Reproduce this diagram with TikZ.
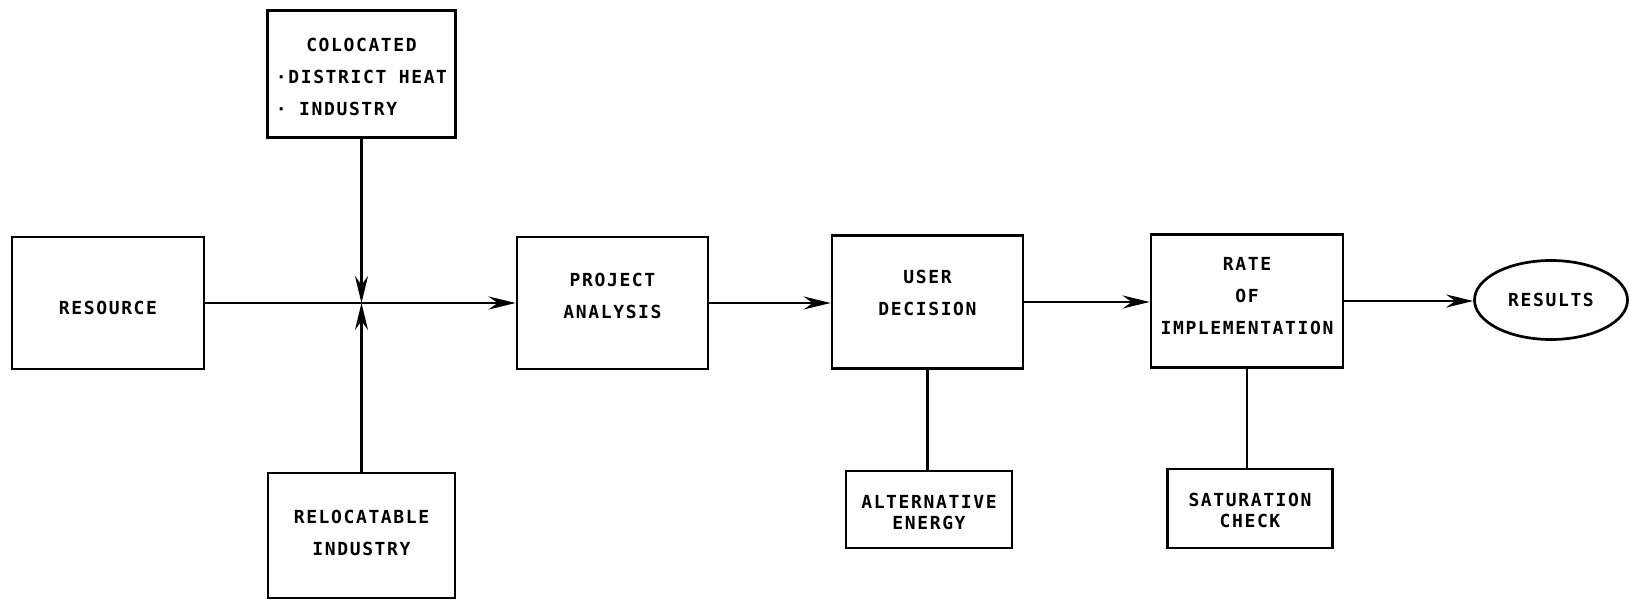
\documentclass[tikz,border=0pt]{standalone}
\usepackage{fontspec}
\newfontfamily\lettering[LetterSpace=9]{DejaVu Sans Mono Bold}
\usetikzlibrary{arrows.meta,shapes.geometric}
\newcommand\lns[3][c]{\raisebox{\dimexpr#2-4.5pt\relax}[0pt][0pt]{\begin{tabular}{@{}#1@{}}#3\end{tabular}}}
\tikzset{
  box/.style={draw, line width=2.7pt, rectangle, inner sep=0pt, align=center,
    font=\lettering\fontsize{18}{32}\selectfont},
  smallbox/.style={box, font=\lettering\fontsize{18}{21}\selectfont},
  oval/.style={draw, line width=2.7pt, ellipse, inner sep=0pt, align=center,
    font=\lettering\fontsize{18}{32}\selectfont},
  flow/.style={line width=2.7pt, -{Stealth[length=27pt,width=13pt,inset=9pt]}},
  link/.style={line width=2.7pt}
}
\begin{document}
\begin{tikzpicture}[x=1pt,y=-1pt]
\useasboundingbox (0,0) rectangle (1630,601);
\node[box, minimum width=192pt, minimum height=132pt] (res) at (108,303) {\lns{-5pt}{RESOURCE}};
\node[box, minimum width=188pt, minimum height=127pt] (col) at (361.5,74)
  {\lns[l]{-3pt}{\multicolumn{1}{@{}c@{}}{COLOCATED}\\{·}DISTRICT HEAT\\{·} INDUSTRY}};
\node[box, minimum width=187pt, minimum height=125pt] (rel) at (361.5,535.5) {\lns{3pt}{RELOCATABLE\\INDUSTRY}};
\node[box, minimum width=191pt, minimum height=132pt] (pa) at (612.5,303) {\lns{7pt}{PROJECT\\ANALYSIS}};
\node[box, minimum width=191pt, minimum height=133pt] (ud) at (927.5,302) {\lns{9pt}{USER\\DECISION}};
\node[box, minimum width=192pt, minimum height=133pt] (rate) at (1247,301) {\lns{5pt}{RATE\\OF\\IMPLEMENTATION}};
\node[oval, minimum width=153pt, minimum height=79pt] (out) at (1551,300) {RESULTS};
\node[smallbox, minimum width=166pt, minimum height=77pt] (alt) at (929,509.5) {\lns{-5pt}{ALTERNATIVE\\ENERGY}};
\node[smallbox, minimum width=165pt, minimum height=79pt] (sat) at (1250,508.5) {\lns{-4pt}{SATURATION\\CHECK}};
\coordinate (j) at (col.south |- res.east);
\draw[flow] (res.east) -- (pa.west);
\draw[flow] (col.south) -- (j);
\draw[flow] (rel.north) -- (j);
\draw[flow] (pa.east) -- (pa.east -| ud.west);
\draw[flow] (ud.east) -- (ud.east -| rate.west);
\draw[flow] (rate.east) -- (rate.east -| out.west);
\draw[link] (ud.south) -- (ud.south |- alt.north);
\draw[link] (rate.south) -- (rate.south |- sat.north);
\end{tikzpicture}
\end{document}
